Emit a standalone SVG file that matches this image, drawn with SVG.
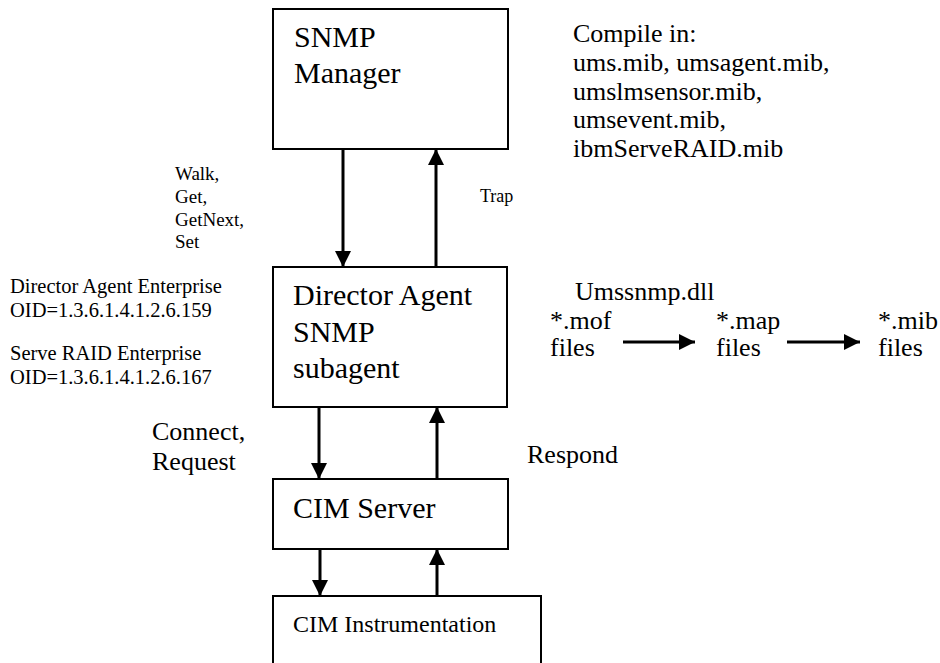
<svg xmlns="http://www.w3.org/2000/svg" width="940" height="663" viewBox="0 0 940 663" font-family="'Liberation Serif', 'Times New Roman', serif">
<style>
  text { font-family: "Liberation Serif", "Times New Roman", serif; fill: #000; }
  .box { fill: #fff; stroke: #000; stroke-width: 2; }
  .big { font-size: 30px; }
  .mid { font-size: 26px; }
  .sm { font-size: 20.5px; }
  .xs { font-size: 19px; }
  .conn line { stroke: #000; stroke-width: 3; }
</style>
<defs>
  <marker id="ah" viewBox="0 0 16 16" refX="16" refY="8" markerWidth="16" markerHeight="16" markerUnits="userSpaceOnUse" orient="auto">
    <path d="M0,0 L16,8 L0,16 Z" fill="#000"/>
  </marker>
</defs>
<rect width="940" height="663" fill="#fff"/>

<g id="snmp-manager">
  <rect class="box" x="273" y="9" width="235" height="140"/>
  <text class="big" x="294" y="47">SNMP</text>
  <text class="big" x="294" y="83">Manager</text>
</g>
<g id="director-agent">
  <rect class="box" x="273" y="267" width="234" height="140"/>
  <text class="big" x="293" y="305">Director Agent</text>
  <text class="big" x="293" y="342">SNMP</text>
  <text class="big" x="293" y="378">subagent</text>
</g>
<g id="cim-server">
  <rect class="box" x="273" y="479" width="235" height="70"/>
  <text class="big" x="293" y="518">CIM Server</text>
</g>
<g id="cim-instrumentation">
  <rect class="box" x="273" y="596" width="268" height="80"/>
  <text x="293" y="632" style="font-size:24px">CIM Instrumentation</text>
</g>

<g id="compile-note">
  <text class="mid" x="573" y="42">Compile in:</text>
  <text class="mid" x="573" y="71">ums.mib, umsagent.mib,</text>
  <text class="mid" x="573" y="100">umslmsensor.mib,</text>
  <text class="mid" x="573" y="128">umsevent.mib,</text>
  <text class="mid" x="573" y="157">ibmServeRAID.mib</text>
</g>
<g id="oid-notes">
  <text class="sm" x="10" y="293">Director Agent Enterprise</text>
  <text class="sm" x="10" y="317">OID=1.3.6.1.4.1.2.6.159</text>
  <text class="sm" x="10" y="360">Serve RAID Enterprise</text>
  <text class="sm" x="10" y="384">OID=1.3.6.1.4.1.2.6.167</text>
</g>
<g id="umssnmp">
  <text class="mid" x="575" y="300">Umssnmp.dll</text>
</g>
<g id="mof-files">
  <text class="mid" x="550" y="329">*.mof</text>
  <text class="mid" x="550" y="356">files</text>
</g>
<g id="map-files">
  <text class="mid" x="716" y="329">*.map</text>
  <text class="mid" x="716" y="356">files</text>
</g>
<g id="mib-files">
  <text class="mid" x="878" y="329">*.mib</text>
  <text class="mid" x="878" y="356">files</text>
</g>

<g id="connectors" class="conn">
  <line x1="343" y1="149" x2="343" y2="267" marker-end="url(#ah)"/>
  <line x1="436" y1="267" x2="436" y2="149" marker-end="url(#ah)"/>
  <line x1="319" y1="407" x2="319" y2="479" marker-end="url(#ah)"/>
  <line x1="437" y1="479" x2="437" y2="407" marker-end="url(#ah)"/>
  <line x1="320" y1="549" x2="320" y2="596" marker-end="url(#ah)"/>
  <line x1="437" y1="596" x2="437" y2="549" marker-end="url(#ah)"/>
  <line x1="623" y1="342" x2="695" y2="342" marker-end="url(#ah)"/>
  <line x1="787" y1="342" x2="860" y2="342" marker-end="url(#ah)"/>
</g>

<g id="labels">
  <text class="xs" x="175" y="180">Walk,</text>
  <text class="xs" x="175" y="203">Get,</text>
  <text class="xs" x="175" y="226">GetNext,</text>
  <text class="xs" x="175" y="248">Set</text>
  <text x="480" y="202" style="font-size:18px">Trap</text>
  <text class="mid" x="152" y="440">Connect,</text>
  <text class="mid" x="152" y="470">Request</text>
  <text class="mid" x="527" y="463">Respond</text>
</g>
</svg>
